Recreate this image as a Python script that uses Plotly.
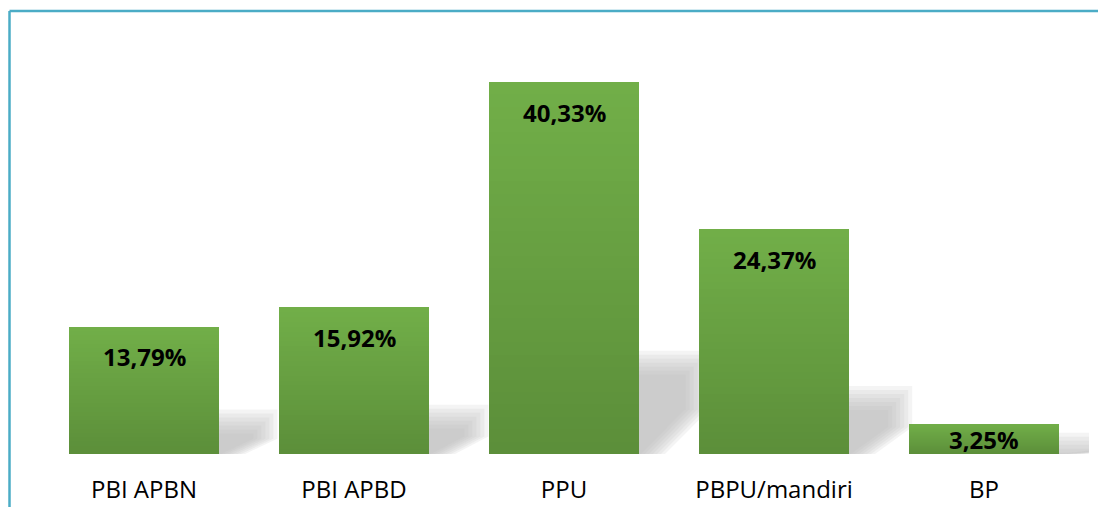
import plotly.graph_objects as go

categories = ["PBI APBN", "PBI APBD", "PPU", "PBPU/mandiri", "BP"]
values = [13.79, 15.92, 40.33, 24.37, 3.25]
labels = ["13,79%", "15,92%", "40,33%", "24,37%", "3,25%"]

OFF = 8  # page body margin
W, H = 1106 - 2 * OFF, 515 - 2 * OFF
ML, MT = 39 - OFF, 39 - OFF
MR = W - (1089 - OFF)
MB = H - (454 - OFF)
YMAX = 45.0
px_per_unit_y = (H - MT - MB) / YMAX
px_per_unit_x = (W - ML - MR) / 5.0
BAR_W = 150 / px_per_unit_x

top_rgb = (113, 174, 72)
bot_rgb = (92, 143, 58)
N = 30

fig = go.Figure()
xs = list(range(len(categories)))
for k in range(N):
    f = 1 - k / N
    t = k / (N - 1)
    c = tuple(int(round(top_rgb[j] + (bot_rgb[j] - top_rgb[j]) * t)) for j in range(3))
    fig.add_trace(go.Bar(
        x=xs, y=[v * f for v in values], width=BAR_W,
        marker=dict(color="rgb(%d,%d,%d)" % c, line=dict(width=0)),
        hoverinfo="skip", showlegend=False,
    ))

# perspective shadows (soft, layered)
shapes = []
for i, v in enumerate(values):
    R = i + BAR_W / 2
    hs = 0.24 * v
    w = (38 + 0.05 * v * px_per_unit_y) / px_per_unit_x
    for d in [14, 10, 6, 2, -2, -6, -10]:
        dx = d / px_per_unit_x
        dy = d / px_per_unit_y
        top = max(hs + dy, 0.05)
        pts = [
            (R - 0.1, 0),
            (R - 0.1, top),
            (R + w + dx, top),
            (R + w + dx, hs * 0.5),
            (R + 12 / px_per_unit_x + dx, 0),
        ]
        path = "M " + " L ".join("%f,%f" % p for p in pts) + " Z"
        shapes.append(dict(type="path", path=path, xref="x", yref="y",
                           fillcolor="rgb(185,185,185)", opacity=0.16,
                           line=dict(width=0), layer="below"))

# border (only top & left edges visible in the frame)
bx = (9.5 - OFF - ML) / (W - ML - MR)
by = (H - MB - (11 - OFF)) / (H - MT - MB)
border = dict(color="#4BACC6", width=2.5)
shapes.append(dict(type="line", xref="paper", yref="paper",
                   x0=bx, y0=by, x1=1.1, y1=by, line=border))
shapes.append(dict(type="line", xref="paper", yref="paper",
                   x0=bx, y0=-0.3, x1=bx, y1=by, line=border))

annotations = []
for i, (v, lab) in enumerate(zip(values, labels)):
    shift = -min(30, v * px_per_unit_y / 2)
    annotations.append(dict(x=i, y=v, xref="x", yref="y", text=lab, showarrow=False,
                            yanchor="middle", yshift=shift,
                            font=dict(family="Open Sans", size=24, color="black", weight="bold")))

fig.update_layout(
    width=W, height=H,
    margin=dict(l=ML, r=MR, t=MT, b=MB),
    paper_bgcolor="white", plot_bgcolor="white",
    barmode="overlay", bargap=0,
    shapes=shapes, annotations=annotations,
    xaxis=dict(range=[-0.5, 4.5], tickvals=xs, ticktext=categories,
               showgrid=False, zeroline=False, showline=False, automargin=False,
               ticks="outside", ticklen=14, tickcolor="rgba(0,0,0,0)",
               tickfont=dict(family="Open Sans", size=24, color="black")),
    yaxis=dict(range=[0, YMAX], visible=False, showgrid=False, zeroline=False,
               automargin=False),
)

fig.write_html("out.html")
